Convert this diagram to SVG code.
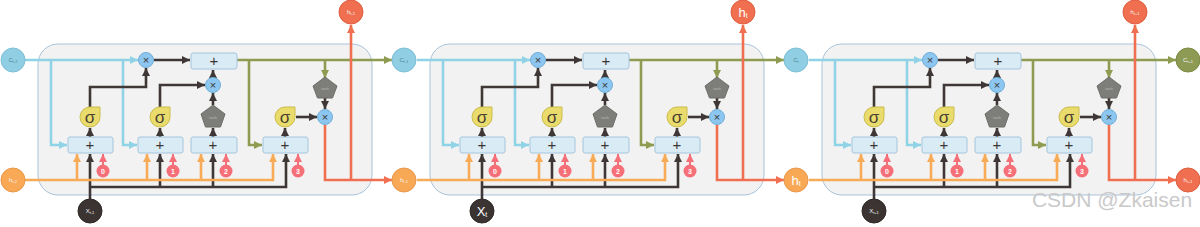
<svg xmlns="http://www.w3.org/2000/svg" width="1200" height="227" viewBox="0 0 1200 227">
<style>
text{font-family:"Liberation Sans","DejaVu Sans",sans-serif;text-anchor:middle}
.cell{fill:#f2f2f2;stroke:#a9c3da;stroke-width:1}
.box{fill:#d9ebf4;stroke:#a4c6dd;stroke-width:1}
.mul{fill:#8dc6ef;stroke:#6caed9;stroke-width:1}
.sig{fill:#e9dc6c;stroke:#cbbb4b;stroke-width:1}
.tanh{fill:#7d7d79;stroke:#6d6d69;stroke-width:1}
.num{fill:#f56f79}
.op{fill:#3c3533;font-size:15px}
.ops{fill:#3c3533;font-size:11px}
.sg{fill:#4a3f33;font-size:17px}
.tt{fill:#b9b9b5;font-size:4px}
.nt{fill:#ffffff;font-size:7px;font-weight:bold}
.lbl{fill:#f5f5f5;font-size:6px}
.lblc{fill:#4f7f92;font-size:6px}
.big{fill:#ffffff;font-size:13px}
.cC{fill:#90cfe3;stroke:#7fbfd6}
.cH{fill:#f9a956;stroke:#e8984a}
.cX{fill:#3b3433;stroke:#2d2726}
.cR{fill:#ef6f50;stroke:#de5f42}
.cG{fill:#8d9a53;stroke:#7c8945}
.l{fill:none;stroke-width:2.6}
.lb{stroke:#90d2e6;marker-end:url(#ab)}
.ld{stroke:#3f3735;marker-end:url(#ad)}
.ln{stroke:#3f3735}
.lo{stroke:#f8ab57;marker-end:url(#ao)}
.lon{stroke:#f8ab57}
.lg{stroke:#8e9c51;marker-end:url(#ag)}
.lgn{stroke:#8e9c51}
.lr{stroke:#ef6f50;marker-end:url(#ar)}
.lrn{stroke:#ef6f50}
.lp{stroke:#f56f79;stroke-width:2;marker-end:url(#ap)}
</style>
<defs>
<marker id="ab" markerUnits="userSpaceOnUse" markerWidth="9" markerHeight="8" refX="8" refY="4" orient="auto"><path d="M0,0 L8,4 L0,8 Z" fill="#90d2e6"/></marker>
<marker id="ad" markerUnits="userSpaceOnUse" markerWidth="9" markerHeight="8" refX="8" refY="4" orient="auto"><path d="M0,0 L8,4 L0,8 Z" fill="#3f3735"/></marker>
<marker id="ao" markerUnits="userSpaceOnUse" markerWidth="9" markerHeight="8" refX="8" refY="4" orient="auto"><path d="M0,0 L8,4 L0,8 Z" fill="#f8ab57"/></marker>
<marker id="ag" markerUnits="userSpaceOnUse" markerWidth="9" markerHeight="8" refX="8" refY="4" orient="auto"><path d="M0,0 L8,4 L0,8 Z" fill="#8e9c51"/></marker>
<marker id="ar" markerUnits="userSpaceOnUse" markerWidth="9" markerHeight="8" refX="8" refY="4" orient="auto"><path d="M0,0 L8,4 L0,8 Z" fill="#ef6f50"/></marker>
<marker id="ap" markerUnits="userSpaceOnUse" markerWidth="9" markerHeight="8" refX="8" refY="4" orient="auto"><path d="M0,0 L8,4 L0,8 Z" fill="#f56f79"/></marker>
</defs>

<g id="backgrounds">
<rect class="cell" x="38" y="44" width="334" height="151" rx="20"/>
<rect class="cell" x="430" y="44" width="334" height="151" rx="20"/>
<rect class="cell" x="822" y="44" width="334" height="151" rx="20"/>
</g>

<g id="connectors">
<g id="conn-1">
<path class="l lb" d="M25,60 H138"/>
<path class="l lb" d="M51,60 V145 H67"/>
<path class="l lb" d="M123,60 V145 H137"/>
<path class="l ld" d="M154,60 H190"/>
<path class="l ld" d="M90,107 V87 H146 V68"/>
<path class="l ld" d="M160,107 V85 H205"/>
<path class="l ld" d="M213,105 V93"/>
<path class="l ld" d="M213,77 V70"/>
<path class="l ld" d="M296,117 H317"/>
<path class="l ld" d="M325,97 V109"/>
<path class="l ld" d="M90,137 V128"/>
<path class="l ld" d="M160,137 V128"/>
<path class="l ld" d="M213,137 V128"/>
<path class="l ld" d="M285,137 V128"/>
<path class="l ld" d="M90,199 V154"/>
<path class="l ld" d="M90,187 H286 V154"/>
<path class="l ld" d="M160,187 V154"/>
<path class="l ld" d="M213,187 V154"/>
<path class="l lo" d="M25,180 H273 V154"/>
<path class="l lo" d="M77,180 V154"/>
<path class="l lo" d="M147,180 V154"/>
<path class="l lo" d="M201,180 V154"/>
<path class="l lg" d="M237,60 H392"/>
<path class="l lg" d="M249,60 V145 H262"/>
<path class="l lg" d="M325,60 V78"/>
<path class="l lr" d="M325,125 V180 H392"/>
<path class="l lr" d="M351,180 V25"/>
<path class="l lp" d="M103,165 V154"/>
<path class="l lp" d="M173,165 V154"/>
<path class="l lp" d="M226,165 V154"/>
<path class="l lp" d="M298,165 V154"/>
</g>
<g id="conn-2" transform="translate(392,0)">
<path class="l lb" d="M25,60 H138"/>
<path class="l lb" d="M51,60 V145 H67"/>
<path class="l lb" d="M123,60 V145 H137"/>
<path class="l ld" d="M154,60 H190"/>
<path class="l ld" d="M90,107 V87 H146 V68"/>
<path class="l ld" d="M160,107 V85 H205"/>
<path class="l ld" d="M213,105 V93"/>
<path class="l ld" d="M213,77 V70"/>
<path class="l ld" d="M296,117 H317"/>
<path class="l ld" d="M325,97 V109"/>
<path class="l ld" d="M90,137 V128"/>
<path class="l ld" d="M160,137 V128"/>
<path class="l ld" d="M213,137 V128"/>
<path class="l ld" d="M285,137 V128"/>
<path class="l ld" d="M90,199 V154"/>
<path class="l ld" d="M90,187 H286 V154"/>
<path class="l ld" d="M160,187 V154"/>
<path class="l ld" d="M213,187 V154"/>
<path class="l lo" d="M25,180 H273 V154"/>
<path class="l lo" d="M77,180 V154"/>
<path class="l lo" d="M147,180 V154"/>
<path class="l lo" d="M201,180 V154"/>
<path class="l lg" d="M237,60 H392"/>
<path class="l lg" d="M249,60 V145 H262"/>
<path class="l lg" d="M325,60 V78"/>
<path class="l lr" d="M325,125 V180 H392"/>
<path class="l lr" d="M351,180 V25"/>
<path class="l lp" d="M103,165 V154"/>
<path class="l lp" d="M173,165 V154"/>
<path class="l lp" d="M226,165 V154"/>
<path class="l lp" d="M298,165 V154"/>
</g>
<g id="conn-3" transform="translate(784,0)">
<path class="l lb" d="M25,60 H138"/>
<path class="l lb" d="M51,60 V145 H67"/>
<path class="l lb" d="M123,60 V145 H137"/>
<path class="l ld" d="M154,60 H190"/>
<path class="l ld" d="M90,107 V87 H146 V68"/>
<path class="l ld" d="M160,107 V85 H205"/>
<path class="l ld" d="M213,105 V93"/>
<path class="l ld" d="M213,77 V70"/>
<path class="l ld" d="M296,117 H317"/>
<path class="l ld" d="M325,97 V109"/>
<path class="l ld" d="M90,137 V128"/>
<path class="l ld" d="M160,137 V128"/>
<path class="l ld" d="M213,137 V128"/>
<path class="l ld" d="M285,137 V128"/>
<path class="l ld" d="M90,199 V154"/>
<path class="l ld" d="M90,187 H286 V154"/>
<path class="l ld" d="M160,187 V154"/>
<path class="l ld" d="M213,187 V154"/>
<path class="l lo" d="M25,180 H273 V154"/>
<path class="l lo" d="M77,180 V154"/>
<path class="l lo" d="M147,180 V154"/>
<path class="l lo" d="M201,180 V154"/>
<path class="l lg" d="M237,60 H392"/>
<path class="l lg" d="M249,60 V145 H262"/>
<path class="l lg" d="M325,60 V78"/>
<path class="l lr" d="M325,125 V180 H392"/>
<path class="l lr" d="M351,180 V25"/>
<path class="l lp" d="M103,165 V154"/>
<path class="l lp" d="M173,165 V154"/>
<path class="l lp" d="M226,165 V154"/>
<path class="l lp" d="M298,165 V154"/>
</g>
</g>

<g id="cell-1-nodes">
<g id="c1-add-top"><rect class="box" x="191" y="53" width="46" height="16" rx="2"/><text class="op" x="214" y="66">+</text></g>
<g id="c1-mul-f"><circle class="mul" cx="146" cy="60" r="7.5"/><text class="ops" x="146" y="64">×</text></g>
<g id="c1-mul-i"><circle class="mul" cx="213" cy="85" r="7.5"/><text class="ops" x="213" y="89">×</text></g>
<g id="c1-mul-o"><circle class="mul" cx="325" cy="117" r="7.5"/><text class="ops" x="325" y="121">×</text></g>
<g id="c1-tanh-g"><path class="tanh" d="M213,105 L225,114 L220.5,127 L205.5,127 L201,114 Z"/><text class="tt" x="213" y="119">tanh</text></g>
<g id="c1-tanh-c"><path class="tanh" d="M325,77 L337,86 L332.5,98 L317.5,98 L313,86 Z"/><text class="tt" x="325" y="90">tanh</text></g>
<g id="c1-sig-f"><path class="sig" d="M100,107 V117 A10,10 0 1 1 90,107 Z"/><text class="sg" x="90" y="123">σ</text></g>
<g id="c1-sig-i"><path class="sig" d="M170,107 V117 A10,10 0 1 1 160,107 Z"/><text class="sg" x="160" y="123">σ</text></g>
<g id="c1-sig-o"><path class="sig" d="M295,107 V117 A10,10 0 1 1 285,107 Z"/><text class="sg" x="285" y="123">σ</text></g>
<g id="c1-add-0"><rect class="box" x="68" y="137" width="45" height="16" rx="2"/><text class="op" x="90" y="150">+</text></g>
<g id="c1-add-1"><rect class="box" x="138" y="137" width="45" height="16" rx="2"/><text class="op" x="160" y="150">+</text></g>
<g id="c1-add-2"><rect class="box" x="191" y="137" width="46" height="16" rx="2"/><text class="op" x="213" y="150">+</text></g>
<g id="c1-add-3"><rect class="box" x="263" y="137" width="45" height="16" rx="2"/><text class="op" x="285" y="150">+</text></g>
<g id="c1-b0"><circle class="num" cx="103" cy="171" r="6.5"/><text class="nt" x="103" y="173.5">0</text></g>
<g id="c1-b1"><circle class="num" cx="173" cy="171" r="6.5"/><text class="nt" x="173" y="173.5">1</text></g>
<g id="c1-b2"><circle class="num" cx="226" cy="171" r="6.5"/><text class="nt" x="226" y="173.5">2</text></g>
<g id="c1-b3"><circle class="num" cx="298" cy="171" r="6.5"/><text class="nt" x="298" y="173.5">3</text></g>
</g>

<g id="cell-2-nodes" transform="translate(392,0)">
<g id="c2-add-top"><rect class="box" x="191" y="53" width="46" height="16" rx="2"/><text class="op" x="214" y="66">+</text></g>
<g id="c2-mul-f"><circle class="mul" cx="146" cy="60" r="7.5"/><text class="ops" x="146" y="64">×</text></g>
<g id="c2-mul-i"><circle class="mul" cx="213" cy="85" r="7.5"/><text class="ops" x="213" y="89">×</text></g>
<g id="c2-mul-o"><circle class="mul" cx="325" cy="117" r="7.5"/><text class="ops" x="325" y="121">×</text></g>
<g id="c2-tanh-g"><path class="tanh" d="M213,105 L225,114 L220.5,127 L205.5,127 L201,114 Z"/><text class="tt" x="213" y="119">tanh</text></g>
<g id="c2-tanh-c"><path class="tanh" d="M325,77 L337,86 L332.5,98 L317.5,98 L313,86 Z"/><text class="tt" x="325" y="90">tanh</text></g>
<g id="c2-sig-f"><path class="sig" d="M100,107 V117 A10,10 0 1 1 90,107 Z"/><text class="sg" x="90" y="123">σ</text></g>
<g id="c2-sig-i"><path class="sig" d="M170,107 V117 A10,10 0 1 1 160,107 Z"/><text class="sg" x="160" y="123">σ</text></g>
<g id="c2-sig-o"><path class="sig" d="M295,107 V117 A10,10 0 1 1 285,107 Z"/><text class="sg" x="285" y="123">σ</text></g>
<g id="c2-add-0"><rect class="box" x="68" y="137" width="45" height="16" rx="2"/><text class="op" x="90" y="150">+</text></g>
<g id="c2-add-1"><rect class="box" x="138" y="137" width="45" height="16" rx="2"/><text class="op" x="160" y="150">+</text></g>
<g id="c2-add-2"><rect class="box" x="191" y="137" width="46" height="16" rx="2"/><text class="op" x="213" y="150">+</text></g>
<g id="c2-add-3"><rect class="box" x="263" y="137" width="45" height="16" rx="2"/><text class="op" x="285" y="150">+</text></g>
<g id="c2-b0"><circle class="num" cx="103" cy="171" r="6.5"/><text class="nt" x="103" y="173.5">0</text></g>
<g id="c2-b1"><circle class="num" cx="173" cy="171" r="6.5"/><text class="nt" x="173" y="173.5">1</text></g>
<g id="c2-b2"><circle class="num" cx="226" cy="171" r="6.5"/><text class="nt" x="226" y="173.5">2</text></g>
<g id="c2-b3"><circle class="num" cx="298" cy="171" r="6.5"/><text class="nt" x="298" y="173.5">3</text></g>
</g>

<g id="cell-3-nodes" transform="translate(784,0)">
<g id="c3-add-top"><rect class="box" x="191" y="53" width="46" height="16" rx="2"/><text class="op" x="214" y="66">+</text></g>
<g id="c3-mul-f"><circle class="mul" cx="146" cy="60" r="7.5"/><text class="ops" x="146" y="64">×</text></g>
<g id="c3-mul-i"><circle class="mul" cx="213" cy="85" r="7.5"/><text class="ops" x="213" y="89">×</text></g>
<g id="c3-mul-o"><circle class="mul" cx="325" cy="117" r="7.5"/><text class="ops" x="325" y="121">×</text></g>
<g id="c3-tanh-g"><path class="tanh" d="M213,105 L225,114 L220.5,127 L205.5,127 L201,114 Z"/><text class="tt" x="213" y="119">tanh</text></g>
<g id="c3-tanh-c"><path class="tanh" d="M325,77 L337,86 L332.5,98 L317.5,98 L313,86 Z"/><text class="tt" x="325" y="90">tanh</text></g>
<g id="c3-sig-f"><path class="sig" d="M100,107 V117 A10,10 0 1 1 90,107 Z"/><text class="sg" x="90" y="123">σ</text></g>
<g id="c3-sig-i"><path class="sig" d="M170,107 V117 A10,10 0 1 1 160,107 Z"/><text class="sg" x="160" y="123">σ</text></g>
<g id="c3-sig-o"><path class="sig" d="M295,107 V117 A10,10 0 1 1 285,107 Z"/><text class="sg" x="285" y="123">σ</text></g>
<g id="c3-add-0"><rect class="box" x="68" y="137" width="45" height="16" rx="2"/><text class="op" x="90" y="150">+</text></g>
<g id="c3-add-1"><rect class="box" x="138" y="137" width="45" height="16" rx="2"/><text class="op" x="160" y="150">+</text></g>
<g id="c3-add-2"><rect class="box" x="191" y="137" width="46" height="16" rx="2"/><text class="op" x="213" y="150">+</text></g>
<g id="c3-add-3"><rect class="box" x="263" y="137" width="45" height="16" rx="2"/><text class="op" x="285" y="150">+</text></g>
<g id="c3-b0"><circle class="num" cx="103" cy="171" r="6.5"/><text class="nt" x="103" y="173.5">0</text></g>
<g id="c3-b1"><circle class="num" cx="173" cy="171" r="6.5"/><text class="nt" x="173" y="173.5">1</text></g>
<g id="c3-b2"><circle class="num" cx="226" cy="171" r="6.5"/><text class="nt" x="226" y="173.5">2</text></g>
<g id="c3-b3"><circle class="num" cx="298" cy="171" r="6.5"/><text class="nt" x="298" y="173.5">3</text></g>
</g>

<g id="io-nodes">
<g id="n-c-t-2"><circle class="cC" cx="13" cy="60" r="12"/><text class="lblc" x="13" y="62">C<tspan font-size="4" dy="1">t-2</tspan></text></g>
<g id="n-h-t-2"><circle class="cH" cx="13" cy="180" r="12"/><text class="lbl" x="13" y="182">h<tspan font-size="4" dy="1">t-2</tspan></text></g>
<g id="n-x-t-1"><circle class="cX" cx="90" cy="211" r="12"/><text class="lbl" x="90" y="213">X<tspan font-size="4" dy="1">t-1</tspan></text></g>
<g id="n-h-t-1-top"><circle class="cR" cx="351" cy="12" r="12"/><text class="lbl" x="351" y="14">h<tspan font-size="4" dy="1">t-1</tspan></text></g>
<g id="n-c-t-1"><circle class="cC" cx="404" cy="60" r="12"/><text class="lblc" x="404" y="62">C<tspan font-size="4" dy="1">t-1</tspan></text></g>
<g id="n-h-t-1"><circle class="cH" cx="404" cy="180" r="12"/><text class="lbl" x="404" y="182">h<tspan font-size="4" dy="1">t-1</tspan></text></g>
<g id="n-x-t"><circle class="cX" cx="482" cy="211" r="12"/><text class="big" x="482" y="216">X<tspan font-size="7" dy="1">t</tspan></text></g>
<g id="n-h-t-top"><circle class="cR" cx="743" cy="12" r="12"/><text class="big" x="743" y="17">h<tspan font-size="7" dy="1">t</tspan></text></g>
<g id="n-c-t"><circle class="cC" cx="796" cy="60" r="12"/><text class="lblc" x="796" y="62">C<tspan font-size="4" dy="1">t</tspan></text></g>
<g id="n-h-t"><circle class="cH" cx="796" cy="180" r="12"/><text class="big" x="796" y="185">h<tspan font-size="7" dy="1">t</tspan></text></g>
<g id="n-x-t1"><circle class="cX" cx="874" cy="211" r="12"/><text class="lbl" x="874" y="213">X<tspan font-size="4" dy="1">t+1</tspan></text></g>
<g id="n-h-t1-top"><circle class="cR" cx="1135" cy="12" r="12"/><text class="lbl" x="1135" y="14">h<tspan font-size="4" dy="1">t+1</tspan></text></g>
<g id="n-c-t1"><circle class="cG" cx="1188" cy="60" r="12"/><text class="lbl" x="1188" y="62">C<tspan font-size="4" dy="1">t+1</tspan></text></g>
<g id="n-h-t1"><circle class="cR" cx="1188" cy="180" r="12"/><text class="lbl" x="1188" y="182">h<tspan font-size="4" dy="1">t+1</tspan></text></g>
</g>

<text id="watermark" x="1112" y="207" style="fill:#c9c9c9;font-size:21px;font-family:'Liberation Sans',Arial,sans-serif">CSDN @Zkaisen</text>
</svg>
